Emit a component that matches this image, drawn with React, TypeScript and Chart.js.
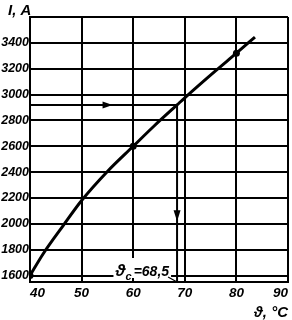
import React, { useEffect, useRef } from "react";
import { Chart, registerables } from "chart.js";

Chart.register(...registerables);

// Data
const curveT = [40, 42.5, 46.5, 50, 55, 60, 64, 68.5, 70, 76, 80, 83.6];
const curveI = [1600, 1765, 1990, 2180, 2405, 2600, 2755, 2920, 2975, 3185, 3320, 3445];
const markT = [40, 60, 80];
const markI = [1600, 2600, 3320];
const critT = 68.5;
const critI = 2920;
const arrowHT = 56;
const arrowVI = 2020;
const xMin = 40;
const xMax = 90;
const yMin = 1550;
const yMax = 3600;
const yTickValues = [1600, 1800, 2000, 2200, 2400, 2600, 2800, 3000, 3200, 3400, 3600];
const hiddenYTick = 3600;
const yTitle = "I, A";
const xTitle = "ϑ, °C";
const critLabelSym = "ϑ";
const critLabelSub = "c";
const critLabelVal = "=68,5";

const FONT = '"Liberation Sans", Arial, sans-serif';

const overlay = {
  id: "overlay",
  afterDatasetsDraw(chart: any) {
    const ctx = chart.ctx;
    const xs = chart.scales.x;
    const ys = chart.scales.y;
    const area = chart.chartArea;
    ctx.save();
    ctx.fillStyle = "#000";
    // horizontal arrow
    const ax = xs.getPixelForValue(arrowHT);
    const ay = ys.getPixelForValue(critI);
    ctx.beginPath();
    ctx.moveTo(ax, ay);
    ctx.lineTo(ax - 10, ay - 3.5);
    ctx.lineTo(ax - 10, ay + 3.5);
    ctx.closePath();
    ctx.fill();
    // vertical arrow
    const vx = xs.getPixelForValue(critT);
    const vy = ys.getPixelForValue(arrowVI);
    ctx.beginPath();
    ctx.moveTo(vx, vy);
    ctx.lineTo(vx - 3.5, vy - 11);
    ctx.lineTo(vx + 3.5, vy - 11);
    ctx.closePath();
    ctx.fill();

    // annotation
    const right = vx - 8;
    const base = area.bottom - 6;
    ctx.font = "italic bold 14px " + FONT;
    const wVal = ctx.measureText(critLabelVal).width;
    ctx.font = "italic bold 11px " + FONT;
    const wSub = ctx.measureText(critLabelSub).width;
    ctx.font = "italic bold 17px " + FONT;
    const wSym = ctx.measureText(critLabelSym).width;
    const left = right - wVal - wSub - wSym - 2;
    ctx.fillStyle = "#fff";
    ctx.fillRect(left - 2, base - 18, right - left + 4, 20);
    ctx.fillStyle = "#000";
    ctx.textBaseline = "alphabetic";
    ctx.textAlign = "left";
    ctx.font = "italic bold 17px " + FONT;
    ctx.fillText(critLabelSym, left, base);
    ctx.font = "italic bold 11px " + FONT;
    ctx.fillText(critLabelSub, left + wSym, base + 4);
    ctx.font = "italic bold 14px " + FONT;
    ctx.fillText(critLabelVal, right - wVal, base);
    ctx.strokeStyle = "#000";
    ctx.lineWidth = 1.2;
    ctx.beginPath();
    ctx.moveTo(right - 1, base + 1);
    ctx.lineTo(vx, area.bottom);
    ctx.stroke();

    // titles
    ctx.font = "italic bold 15px " + FONT;
    ctx.textAlign = "left";
    ctx.fillText(yTitle, 8, 15);
    ctx.textAlign = "right";
    ctx.fillText(xTitle, area.right, 317);
    ctx.restore();
  },
};

export default function App() {
  const ref = useRef<HTMLCanvasElement>(null);
  useEffect(() => {
    document.body.style.margin = "0";
    const chart = new Chart(ref.current as HTMLCanvasElement, {
      type: "line",
      data: {
        datasets: [
          {
            data: curveT.map((t, i) => ({ x: t, y: curveI[i] })),
            borderColor: "#000",
            borderWidth: 3,
            pointRadius: 0,
            cubicInterpolationMode: "monotone",
            fill: false,
          },
          {
            data: markT.map((t, i) => ({ x: t, y: markI[i] })),
            showLine: false,
            pointRadius: 3.5,
            pointBackgroundColor: "#000",
            pointBorderColor: "#000",
            pointBorderWidth: 0,
          },
          {
            data: [
              { x: xMin, y: critI },
              { x: critT, y: critI },
              { x: critT, y: yMin },
            ],
            borderColor: "#000",
            borderWidth: 2,
            pointRadius: 0,
            tension: 0,
            fill: false,
          },
        ],
      },
      options: {
        responsive: false,
        animation: false,
        devicePixelRatio: 1,
        layout: { padding: { top: 17, right: 4, left: 0, bottom: 0 } },
        plugins: { legend: { display: false }, tooltip: { enabled: false }, title: { display: false } },
        scales: {
          x: {
            type: "linear",
            min: xMin,
            max: xMax,
            afterFit: (s: any) => {
              s.height = 38;
            },
            ticks: {
              stepSize: 10,
              align: "inner",
              padding: 3,
              color: "#000",
              font: { family: FONT, size: 13.5, style: "italic", weight: "bold" },
              maxRotation: 0,
            },
            grid: { color: "#000", lineWidth: 2, tickLength: 0, drawTicks: false },
            border: { display: true, color: "#000", width: 2 },
          },
          y: {
            type: "linear",
            min: yMin,
            max: yMax,
            afterFit: (s: any) => {
              s.width = 30;
            },
            afterBuildTicks: (s: any) => {
              s.ticks = yTickValues.map((v) => ({ value: v }));
            },
            ticks: {
              padding: 1,
              color: "#000",
              font: { family: FONT, size: 12.5, style: "italic", weight: "bold" },
              callback: (v: any) => (v === hiddenYTick ? "" : String(v)),
            },
            grid: { color: "#000", lineWidth: 2, tickLength: 0, drawTicks: false },
            border: { display: true, color: "#000", width: 2 },
          },
        },
      },
      plugins: [overlay],
    });
    return () => chart.destroy();
  }, []);
  return (
    <div style={{ position: "absolute", left: 0, top: 0, width: 292, height: 320 }}>
      <canvas ref={ref} width={292} height={320} />
    </div>
  );
}
